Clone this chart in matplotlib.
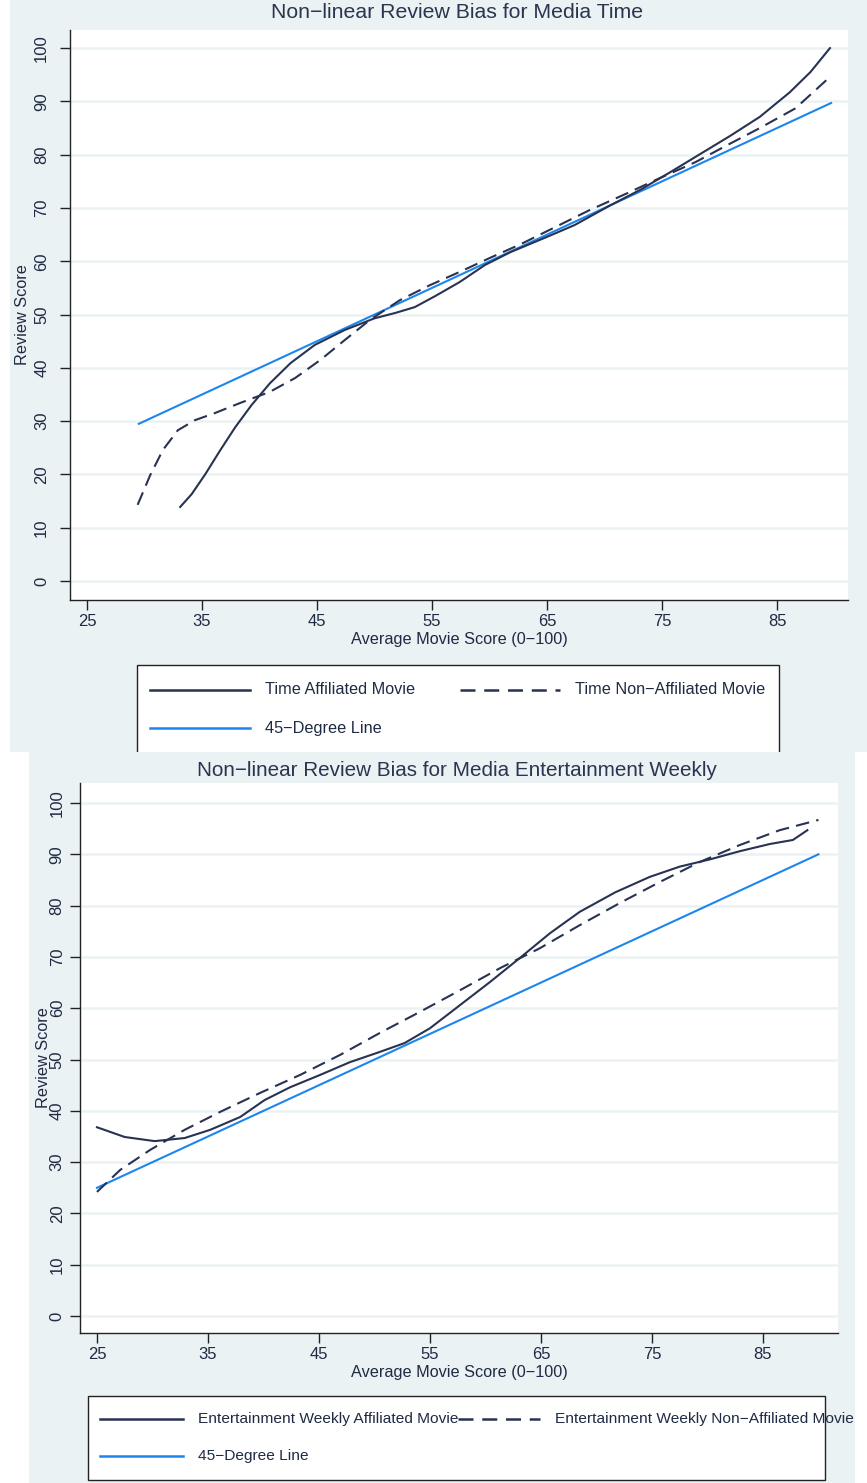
import numpy as np
import matplotlib
matplotlib.use("Agg")
import matplotlib.pyplot as plt
from matplotlib.lines import Line2D
from matplotlib.patches import Rectangle
from matplotlib import font_manager

# ---- data ----
time_aff_x = [33.1, 34.1, 35.3, 36.6, 37.9, 39.3, 40.9, 42.7, 44.8, 47.4, 50.0, 51.8,
              53.5, 55.3, 57.4, 59.6, 61.8, 64.8, 67.4, 70.5, 73.1, 75.7, 78.3, 80.9,
              83.5, 86.1, 87.9, 89.6]
time_aff_y = [13.9, 16.3, 20.1, 24.6, 28.9, 33.0, 37.1, 40.9, 44.3, 47.1, 49.3, 50.3,
              51.4, 53.5, 56.1, 59.3, 61.7, 64.4, 66.8, 70.5, 73.4, 76.7, 80.1, 83.5,
              87.1, 91.7, 95.5, 100.0]
time_non_x = [29.4, 30.5, 31.6, 32.9, 34.4, 36.1, 38.3, 40.9, 43.1, 45.3, 47.4, 49.6,
              52.2, 54.8, 57.4, 60.0, 62.7, 65.7, 68.7, 71.8, 74.8, 77.9, 80.5, 83.5,
              86.6, 89.6]
time_non_y = [14.3, 19.9, 24.6, 28.3, 30.2, 31.5, 33.4, 35.5, 38.1, 41.5, 45.2, 49.0,
              52.7, 55.5, 58.0, 60.6, 63.2, 66.4, 69.6, 72.6, 75.6, 78.6, 81.6, 85.0,
              88.7, 94.6]
time_45 = [29.5, 89.7]

ew_aff_x = [25.0, 27.5, 30.2, 32.9, 35.2, 37.9, 40.1, 42.4, 45.1, 47.8, 50.5, 52.7,
            55.0, 57.7, 60.4, 63.1, 65.8, 68.5, 71.7, 74.8, 77.5, 80.2, 82.9, 85.6,
            87.7, 89.0]
ew_aff_y = [36.8, 34.9, 34.1, 34.7, 36.3, 38.8, 42.1, 44.6, 47.0, 49.5, 51.5, 53.2,
            56.1, 60.6, 65.1, 69.8, 74.6, 78.8, 82.6, 85.6, 87.6, 89.0, 90.6, 92.0,
            92.8, 94.7]
ew_non_x = [25.0, 27.1, 29.8, 32.9, 36.1, 39.7, 43.3, 46.9, 50.5, 54.1, 57.7, 61.3,
            64.9, 68.5, 72.1, 75.7, 79.3, 82.9, 86.5, 90.0]
ew_non_y = [24.2, 28.5, 32.4, 36.3, 39.8, 43.5, 47.0, 50.9, 55.2, 59.3, 63.5, 67.8,
            71.7, 76.2, 80.5, 84.6, 88.5, 91.8, 94.7, 96.7]
ew_45 = [25.0, 90.0]

x_ticks = [25, 35, 45, 55, 65, 75, 85]
y_ticks = [0, 10, 20, 30, 40, 50, 60, 70, 80, 90, 100]

# ---- style ----
W, H = 867, 1483
BG = "#eaf2f3"
NAVY = "#283352"
BLUE = "#1c86ee"
TXT = "#1f2a44"
avail = {f.name for f in font_manager.fontManager.ttflist}
FONT = [f for f in ["Liberation Sans Narrow", "Liberation Sans", "DejaVu Sans"] if f in avail]
plt.rcParams["font.family"] = FONT
FS = 11.7


def fx(px):
    return px / W


def fy(py):
    return 1 - py / H


fig = plt.figure(figsize=(W / 100, H / 100), dpi=100)
fig.patch.set_facecolor("white")

# panel backgrounds (bottom one overlaps the top legend, as in the screenshot)
fig.add_artist(Rectangle((fx(10), fy(752)), fx(857), 752 / H, transform=fig.transFigure,
                         facecolor=BG, edgecolor="none", zorder=-3))
fig.add_artist(Rectangle((fx(29), 0), fx(826), fy(752), transform=fig.transFigure,
                         facecolor=BG, edgecolor="none", zorder=-1))


def panel(box, xlim, ylim, aff, non, diag, title, title_y, title_fs, ylab_x, ypad):
    l, t, r, b = box
    ax = fig.add_axes([fx(l), fy(b), fx(r - l), (b - t) / H])
    ax.set_facecolor("white")
    ax.plot(diag, diag, color=BLUE, lw=1.5)
    ax.plot(non[0], non[1], color=NAVY, lw=1.5, dashes=(6.5, 3.5))
    ax.plot(aff[0], aff[1], color=NAVY, lw=1.5)
    ax.set_xlim(*xlim)
    ax.set_ylim(*ylim)
    ax.set_xticks(x_ticks)
    ax.set_yticks(y_ticks)
    ax.set_yticklabels([str(v) for v in y_ticks], rotation=90, va="center")
    ax.grid(axis="y", color=BG, lw=1.8)
    ax.set_axisbelow(True)
    for s in ("top", "right"):
        ax.spines[s].set_visible(False)
    for s in ("left", "bottom"):
        ax.spines[s].set_color("#222222")
        ax.spines[s].set_linewidth(1.0)
    ax.tick_params(length=7, width=1.0, color="#222222", labelsize=12, labelcolor=TXT)
    ax.tick_params(axis="y", pad=ypad)
    ax.tick_params(axis="x", pad=3)
    ax.set_xlabel("Average Movie Score (0\u2212100)", fontsize=FS, color=TXT)
    ax.xaxis.set_label_coords(0.5, -32 / (b - t))
    ax.set_ylabel("Review Score", fontsize=FS, color=TXT)
    ax.yaxis.set_label_coords(ylab_x, 0.5)
    fig.text(fx((l + r) / 2 - 2), fy(title_y), title, ha="center", va="center",
             fontsize=title_fs, color="#2a3550")
    return ax


panel((70, 30, 848, 600), (23.52, 91.17), (-3.56, 103.4),
      (time_aff_x, time_aff_y), (time_non_x, time_non_y), time_45,
      "Non\u2212linear Review Bias for Media Time", 12, 15.3, -0.052, 8)
panel((80, 783, 838, 1333), (23.47, 91.76), (-3.3, 103.9),
      (ew_aff_x, ew_aff_y), (ew_non_x, ew_non_y), ew_45,
      "Non\u2212linear Review Bias for Media Entertainment Weekly", 770, 14.9, -0.038, 4)


def legend(box, rows, z, fs):
    l, t, r, b = box
    fig.add_artist(Rectangle((fx(l), fy(b)), fx(r - l), (b - t) / H,
                             transform=fig.transFigure, facecolor="white",
                             edgecolor="#222222", lw=1.0, zorder=z))
    for (x0, x1, y, color, dashed, text) in rows:
        ln = Line2D([fx(x0), fx(x1)], [fy(y), fy(y)], transform=fig.transFigure,
                    color=color, lw=1.8, zorder=z + 0.1)
        if dashed:
            ln.set_dashes((6.0, 3.5))
        fig.add_artist(ln)
        fig.text(fx(x1 + 15), fy(y), text, ha="left", va="center", fontsize=fs,
                 color=TXT, zorder=z + 0.2)


legend((137, 665, 779, 775), [
    (150, 250, 690, NAVY, False, "Time Affiliated Movie"),
    (460, 560, 690, NAVY, True, "Time Non\u2212Affiliated Movie"),
    (150, 250, 728, BLUE, False, "45\u2212Degree Line"),
], -2, FS)
legend((88, 1396, 825, 1480), [
    (100, 183, 1419, NAVY, False, "Entertainment Weekly Affiliated Movie"),
    (458, 540, 1419, NAVY, True, "Entertainment Weekly Non\u2212Affiliated Movie"),
    (100, 183, 1456, BLUE, False, "45\u2212Degree Line"),
], 2, 11.15)

fig.savefig("out.png", dpi=100)
